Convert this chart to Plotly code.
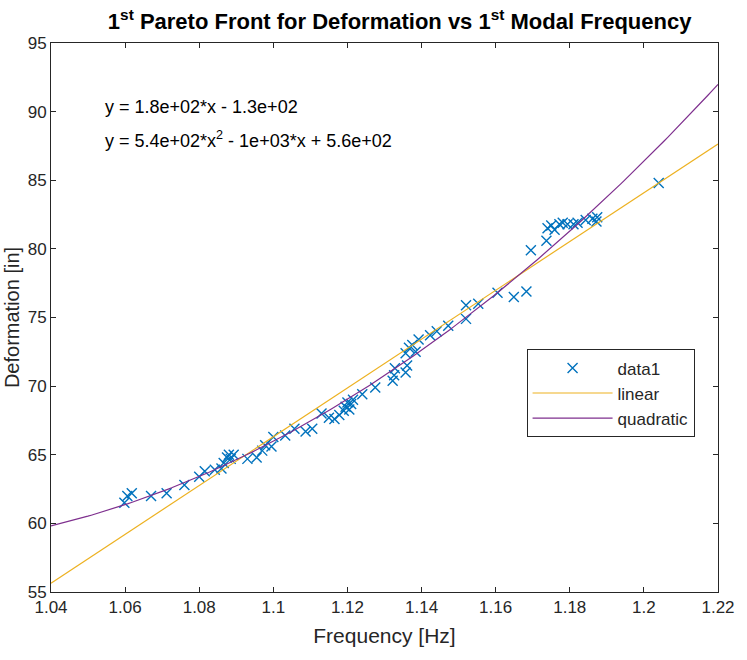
import numpy as np
import plotly.graph_objects as go

# Data
freq = [1.0598, 1.0606, 1.0618, 1.0670, 1.0712, 1.0760, 1.0800, 1.0815, 1.0842, 1.0860,
        1.0866, 1.0875, 1.0880, 1.0885, 1.0893, 1.0930, 1.0955, 1.0970, 1.0978, 1.0995,
        1.1000, 1.1032, 1.1057, 1.1087, 1.1105, 1.1130, 1.1150, 1.1165, 1.1178, 1.1190,
        1.1195, 1.1200, 1.1205, 1.1210, 1.1215, 1.1240, 1.1275, 1.1322, 1.1326, 1.1328,
        1.1357, 1.1361, 1.1357, 1.1366, 1.1375, 1.1384, 1.1392, 1.1423, 1.1441, 1.1472,
        1.1520, 1.1520, 1.1553, 1.1605, 1.1649, 1.1683, 1.1695, 1.1737, 1.1740, 1.1750,
        1.1759, 1.1772, 1.1781, 1.1794, 1.1810, 1.1821, 1.1843, 1.1861, 1.1872, 1.1874,
        1.2040]
deform = [61.5, 62.0, 62.2, 62.0, 62.2, 62.8, 63.4, 63.8, 63.9, 64.0,
          64.4, 64.8, 65.0, 64.7, 65.0, 64.7, 64.8, 65.3, 65.7, 65.6,
          66.3, 66.4, 66.9, 66.7, 66.9, 68.0, 67.7, 67.6, 67.9, 68.2,
          68.5, 68.8, 68.3, 68.7, 69.0, 69.4, 69.9, 70.4, 70.8, 71.3,
          71.0, 71.5, 72.4, 72.8, 73.0, 72.5, 73.4, 73.7, 74.0, 74.4,
          74.9, 75.9, 76.0, 76.8, 76.5, 76.9, 79.9, 80.6, 81.5, 81.7,
          81.4, 81.8, 81.9, 81.8, 81.8, 81.9, 82.1, 82.2, 82.0, 82.3,
          84.8]

x_ticks = [1.04, 1.06, 1.08, 1.10, 1.12, 1.14, 1.16, 1.18, 1.20, 1.22]
x_tick_labels = ["1.04", "1.06", "1.08", "1.1", "1.12", "1.14", "1.16", "1.18", "1.2", "1.22"]
y_ticks = [55, 60, 65, 70, 75, 80, 85, 90, 95]

eq_linear = "y = 1.8e+02*x - 1.3e+02"
eq_quad = "y = 5.4e+02*x<sup>2</sup> - 1e+03*x + 5.6e+02"

x_arr = np.array(freq)
y_arr = np.array(deform)
p1 = np.polyfit(x_arr, y_arr, 1)
p2 = np.polyfit(x_arr, y_arr, 2)
xs = np.linspace(1.04, 1.22, 200)

FONT = "Liberation Sans, Arial, sans-serif"
AX = "#262626"

fig = go.Figure()
fig.add_trace(go.Scatter(x=freq, y=deform, mode="markers", name="data1",
                         marker=dict(symbol="x-thin-open", size=10,
                                     line=dict(color="#0072BD", width=1.4),
                                     color="#0072BD")))
fig.add_trace(go.Scatter(x=xs, y=np.polyval(p1, xs), mode="lines", name="linear",
                         line=dict(color="#EDB120", width=1.2)))
fig.add_trace(go.Scatter(x=xs, y=np.polyval(p2, xs), mode="lines", name="quadratic",
                         line=dict(color="#7E2F8E", width=1.2)))

axis_common = dict(showline=True, linecolor=AX, linewidth=1, mirror="ticks",
                   ticks="inside", ticklen=5, tickcolor=AX, showgrid=False,
                   zeroline=False, tickfont=dict(family=FONT, size=17, color=AX))

fig.update_xaxes(range=[1.04, 1.22], tickvals=x_ticks, ticktext=x_tick_labels,
                 title=dict(text="Frequency [Hz]", font=dict(family=FONT, size=21, color=AX),
                            standoff=11),
                 **axis_common)
fig.update_yaxes(range=[55, 95], tickvals=y_ticks,
                 title=dict(text="Deformation [in]", font=dict(family=FONT, size=20, color=AX),
                            standoff=2),
                 **axis_common)

fig.add_annotation(x=0.078, y=0.883, xref="paper", yref="paper", text=eq_linear,
                   showarrow=False, xanchor="left", yanchor="middle",
                   font=dict(family=FONT, size=18, color="black"))
fig.add_annotation(x=0.078, y=0.825, xref="paper", yref="paper", text=eq_quad,
                   showarrow=False, xanchor="left", yanchor="middle",
                   font=dict(family=FONT, size=18, color="black"))

fig.update_layout(
    width=747, height=660,
    margin=dict(l=44, r=24, t=43, b=68),
    plot_bgcolor="white", paper_bgcolor="white",
    title=dict(text="<b>1<sup>st</sup> Pareto Front for Deformation vs 1<sup>st</sup> Modal Frequency</b>",
               x=0.535, xanchor="center", y=0.968, yanchor="middle",
               font=dict(family=FONT, size=22, color="black")),
    legend=dict(x=0.713, y=0.442, xanchor="left", yanchor="top",
                bordercolor=AX, borderwidth=1, bgcolor="white",
                itemwidth=80, tracegroupgap=0,
                font=dict(family=FONT, size=17, color=AX)),
    showlegend=True,
)

fig.write_html("out.html")
